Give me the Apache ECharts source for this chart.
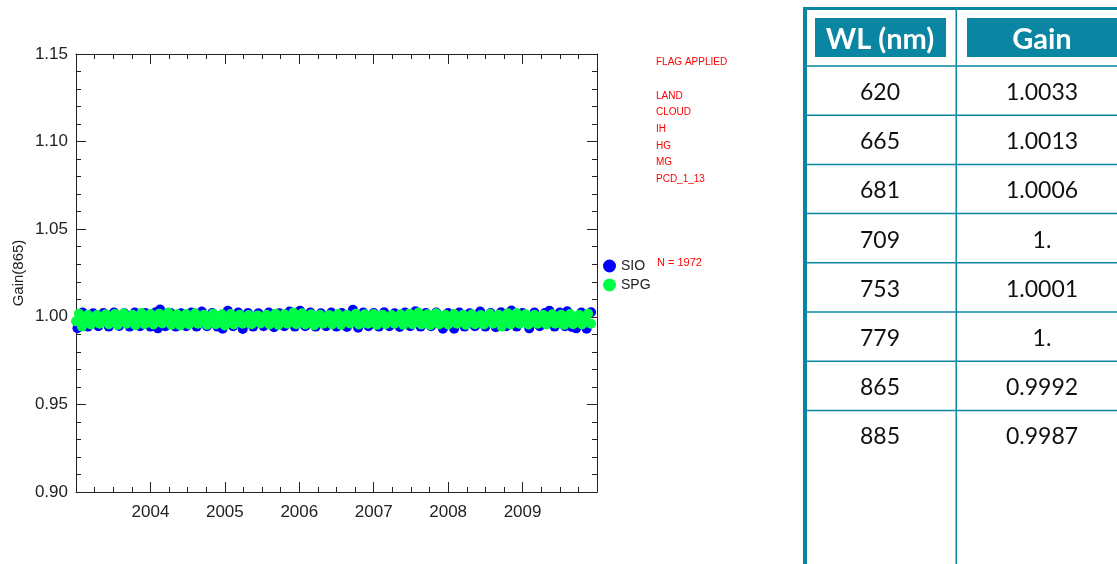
<!DOCTYPE html>
<html>
<head>
<meta charset="utf-8">
<title>Gain(865)</title>
<script src="https://cdn.jsdelivr.net/npm/echarts@6/dist/echarts.min.js"></script>
<style>
  html, body { margin: 0; padding: 0; background: #fff; }
  #chart { width: 1117px; height: 564px; }
</style>
</head>
<body>
<div id="chart"></div>
<script>
// SIO match-ups (decimal year, gain)
var sioPoints = [
  [2003.02,0.9935],[2003.09,1.0024],[2003.16,0.9944],[2003.23,1.0020],[2003.30,0.9946],[2003.37,1.0022],[2003.44,0.9944],[2003.51,1.0024],
  [2003.58,0.9948],[2003.65,1.0020],[2003.72,0.9944],[2003.79,1.0024],[2003.86,0.9946],[2003.93,1.0022],[2004.00,0.9944],[2004.07,1.0026],
  [2004.10,0.9934],[2004.13,1.0042],[2004.20,0.9946],[2004.27,1.0022],[2004.34,0.9944],[2004.41,1.0020],[2004.48,0.9946],[2004.55,1.0024],
  [2004.62,0.9944],[2004.69,1.0030],[2004.76,0.9946],[2004.83,1.0022],[2004.90,0.9944],[2004.97,0.9932],[2005.04,1.0034],[2005.11,0.9946],
  [2005.18,1.0024],[2005.24,0.9930],[2005.31,1.0022],[2005.38,0.9944],[2005.45,1.0020],[2005.52,0.9946],[2005.59,1.0024],[2005.66,0.9940],
  [2005.73,1.0020],[2005.80,0.9946],[2005.87,1.0030],[2005.94,0.9944],[2006.01,1.0034],[2006.08,0.9946],[2006.15,1.0024],[2006.22,0.9944],
  [2006.29,1.0020],[2006.36,0.9946],[2006.43,1.0024],[2006.50,0.9944],[2006.57,1.0022],[2006.64,0.9942],[2006.72,1.0040],[2006.79,0.9938],
  [2006.86,1.0024],[2006.93,0.9946],[2007.00,1.0022],[2007.07,0.9944],[2007.14,1.0026],[2007.21,0.9946],[2007.28,1.0020],[2007.35,0.9942],
  [2007.42,1.0024],[2007.49,0.9946],[2007.56,1.0032],[2007.63,0.9944],[2007.70,1.0022],[2007.77,0.9946],[2007.84,1.0024],[2007.93,0.9932],
  [2008.00,1.0022],[2008.08,0.9932],[2008.15,1.0024],[2008.22,0.9944],[2008.29,1.0020],[2008.36,0.9946],[2008.43,1.0030],[2008.50,0.9944],
  [2008.57,1.0022],[2008.64,0.9940],[2008.71,1.0026],[2008.78,0.9946],[2008.85,1.0036],[2008.92,0.9944],[2009.00,1.0022],[2009.09,0.9934],
  [2009.16,1.0024],[2009.23,0.9946],[2009.30,1.0022],[2009.36,1.0034],[2009.43,0.9944],[2009.50,1.0024],[2009.57,0.9946],[2009.60,1.0032],
  [2009.66,0.9942],[2009.72,0.9934],[2009.79,1.0024],[2009.86,0.9932],[2009.92,1.0026]
];

// SPG match-ups (decimal year, gain)
var spgPoints = [
  [2003.00,0.9975],[2003.04,1.0018],[2003.08,0.9944],[2003.12,0.9990],[2003.16,1.0012],[2003.20,0.9956],[2003.24,0.9984],[2003.28,1.0010],
  [2003.32,0.9960],[2003.36,0.9992],[2003.40,1.0014],[2003.44,0.9958],[2003.48,0.9988],[2003.52,1.0016],[2003.56,0.9954],[2003.60,0.9994],
  [2003.64,1.0020],[2003.68,0.9960],[2003.72,0.9986],[2003.76,1.0012],[2003.80,0.9952],[2003.84,0.9990],[2003.88,1.0022],[2003.92,0.9958],
  [2003.96,0.9984],
  [2004.00,1.0016],[2004.04,0.9956],[2004.08,0.9992],[2004.12,1.0018],[2004.16,0.9962],[2004.20,0.9986],[2004.24,1.0024],[2004.28,0.9954],
  [2004.32,0.9990],[2004.36,1.0014],[2004.40,0.9950],[2004.44,0.9982],[2004.48,1.0016],[2004.52,0.9956],[2004.56,0.9994],[2004.60,1.0020],
  [2004.64,0.9960],[2004.68,0.9988],[2004.72,1.0012],[2004.76,0.9954],[2004.80,0.9990],[2004.84,1.0018],[2004.88,0.9958],[2004.92,0.9986],
  [2004.96,1.0014],
  [2005.00,0.9950],[2005.04,0.9990],[2005.08,1.0016],[2005.12,0.9956],[2005.16,0.9986],[2005.20,1.0012],[2005.24,0.9960],[2005.28,0.9984],
  [2005.32,1.0010],[2005.36,0.9958],[2005.40,0.9982],[2005.44,1.0008],[2005.48,0.9962],[2005.52,0.9986],[2005.56,1.0012],[2005.60,0.9956],
  [2005.64,0.9990],[2005.68,1.0018],[2005.72,0.9954],[2005.76,0.9984],[2005.80,1.0014],[2005.84,0.9960],[2005.88,0.9992],[2005.92,1.0024],
  [2005.96,0.9958],
  [2006.00,0.9988],[2006.04,1.0020],[2006.08,0.9956],[2006.12,0.9990],[2006.16,1.0014],[2006.20,0.9952],[2006.24,0.9986],[2006.28,1.0012],
  [2006.32,0.9960],[2006.36,0.9984],[2006.40,1.0010],[2006.44,0.9956],[2006.48,0.9988],[2006.52,1.0016],[2006.56,0.9954],[2006.60,0.9992],
  [2006.64,1.0012],[2006.68,0.9962],[2006.72,0.9986],[2006.76,1.0018],[2006.80,0.9956],[2006.84,0.9990],[2006.88,1.0014],[2006.92,0.9960],
  [2006.96,0.9986],
  [2007.00,1.0016],[2007.04,0.9954],[2007.08,0.9990],[2007.12,1.0012],[2007.16,0.9958],[2007.20,0.9986],[2007.24,1.0010],[2007.28,0.9960],
  [2007.32,0.9988],[2007.36,1.0014],[2007.40,0.9954],[2007.44,0.9986],[2007.48,1.0018],[2007.52,0.9958],[2007.56,0.9992],[2007.60,1.0024],
  [2007.64,0.9956],[2007.68,0.9988],[2007.72,1.0014],[2007.76,0.9952],[2007.80,0.9990],[2007.84,1.0020],[2007.88,0.9958],[2007.92,0.9986],
  [2007.96,1.0012],
  [2008.00,0.9956],[2008.04,0.9990],[2008.08,1.0016],[2008.12,0.9960],[2008.16,0.9986],[2008.20,1.0012],[2008.24,0.9954],[2008.28,0.9988],
  [2008.32,1.0014],[2008.36,0.9958],[2008.40,0.9986],[2008.44,1.0010],[2008.48,0.9956],[2008.52,0.9990],[2008.56,1.0018],[2008.60,0.9960],
  [2008.64,0.9984],[2008.68,1.0012],[2008.72,0.9944],[2008.76,0.9988],[2008.80,1.0020],[2008.84,0.9956],[2008.88,0.9992],[2008.92,1.0022],
  [2008.96,0.9960],
  [2009.00,0.9988],[2009.04,1.0014],[2009.08,0.9956],[2009.12,0.9990],[2009.16,1.0012],[2009.20,0.9960],[2009.24,0.9986],[2009.28,1.0010],
  [2009.32,0.9956],[2009.36,0.9988],[2009.40,1.0014],[2009.44,0.9960],[2009.48,0.9984],[2009.52,1.0012],[2009.56,0.9954],[2009.60,0.9990],
  [2009.64,1.0016],[2009.68,0.9958],[2009.72,0.9986],[2009.76,1.0012],[2009.80,0.9956],[2009.84,0.9990],[2009.88,1.0018],[2009.92,0.9960]
];

var flagLines = ["LAND", "CLOUD", "IH", "HG", "MG", "PCD_1_13"];
var matchCount = "N = 1972";

// table on the right
var tableHeader = ["WL (nm)", "Gain"];
var wavelengths = ["620", "665", "681", "709", "753", "779", "865", "885"];
var gains = ["1.0033", "1.0013", "1.0006", "1.", "1.0001", "1.", "0.9992", "0.9987"];

var teal = "#0a86a2";
var axisColor = "#222";

function buildGraphic() {
  var g = [];
  // red annotations
  g.push({ type: "text", left: 656, top: 57, style: { text: "FLAG APPLIED", fill: "#ff0000", font: "10px 'Liberation Sans'" } });
  flagLines.forEach(function (t, i) {
    g.push({ type: "text", left: 656, top: 91 + i * 16.6, style: { text: t, fill: "#ff0000", font: "10px 'Liberation Sans'" } });
  });
  g.push({ type: "text", left: 657, top: 257, style: { text: matchCount, fill: "#ff0000", font: "11px 'Liberation Sans'" } });

  // table frame
  g.push({ type: "rect", shape: { x: 803, y: 7, width: 4, height: 557 }, style: { fill: teal } });
  g.push({ type: "rect", shape: { x: 803, y: 7, width: 314, height: 3 }, style: { fill: teal } });
  g.push({ type: "rect", shape: { x: 955.5, y: 9, width: 1.5, height: 555 }, style: { fill: teal } });
  g.push({ type: "rect", shape: { x: 815, y: 18, width: 131, height: 39 }, style: { fill: teal } });
  g.push({ type: "rect", shape: { x: 967, y: 18, width: 150, height: 39 }, style: { fill: teal } });
  g.push({ type: "text", x: 880, y: 40, style: { text: tableHeader[0], fill: "#fff", font: "bold 29px Lato", align: "center", verticalAlign: "middle" } });
  g.push({ type: "text", x: 1042, y: 40, style: { text: tableHeader[1], fill: "#fff", font: "bold 29px Lato", align: "center", verticalAlign: "middle" } });
  var rowH = 49.2;
  for (var i = 0; i < wavelengths.length; i++) {
    var top = 66 + i * rowH;
    g.push({ type: "rect", shape: { x: 807, y: top - 0.75, width: 310, height: 1.5 }, style: { fill: teal } });
    g.push({ type: "text", x: 880, y: top + rowH / 2 + 2, style: { text: wavelengths[i], fill: "#111", font: "23px Lato", align: "center", verticalAlign: "middle" } });
    g.push({ type: "text", x: 1042, y: top + rowH / 2 + 2, style: { text: gains[i], fill: "#111", font: "23px Lato", align: "center", verticalAlign: "middle" } });
  }
  return g;
}

var chart = echarts.init(document.getElementById("chart"), null, { renderer: "canvas" });

var xCommon = {
  type: "value",
  min: 2003,
  max: 2010,
  interval: 1,
  axisLine: { show: true, lineStyle: { color: axisColor, width: 1 } },
  axisTick: { show: true, inside: true, length: 10, lineStyle: { color: axisColor } },
  minorTick: { show: true, splitNumber: 4, length: 5, lineStyle: { color: axisColor } },
  splitLine: { show: false }
};
var yCommon = {
  type: "value",
  min: 0.9,
  max: 1.15,
  interval: 0.05,
  axisLine: { show: true, lineStyle: { color: axisColor, width: 1 } },
  axisTick: { show: true, inside: true, length: 10, lineStyle: { color: axisColor } },
  minorTick: { show: true, splitNumber: 5, length: 5, lineStyle: { color: axisColor } },
  splitLine: { show: false }
};

chart.setOption({
  animation: false,
  backgroundColor: "#fff",
  grid: { left: 76, right: 520, top: 54, bottom: 72, containLabel: false },
  legend: {
    orient: "vertical",
    left: 603,
    top: 259,
    padding: 0,
    itemWidth: 13,
    itemHeight: 13,
    itemGap: 5,
    icon: "circle",
    textStyle: { fontFamily: "Liberation Sans", fontSize: 14, color: "#222" },
    data: ["SIO", "SPG"]
  },
  xAxis: [
    Object.assign({}, xCommon, {
      position: "bottom",
      axisLabel: {
        margin: 12,
        fontFamily: "Liberation Sans",
        fontSize: 17,
        color: "#222",
        formatter: function (v) { return (v > 2003 && v < 2010) ? String(v) : ""; }
      }
    }),
    Object.assign({}, xCommon, { position: "top", axisLabel: { show: false } })
  ],
  yAxis: [
    Object.assign({}, yCommon, {
      position: "left",
      name: "Gain(865)",
      nameLocation: "middle",
      nameGap: 50,
      nameTextStyle: { fontFamily: "Liberation Sans", fontSize: 15, color: "#222" },
      axisLabel: {
        margin: 8,
        fontFamily: "Liberation Sans",
        fontSize: 17,
        color: "#222",
        formatter: function (v) { return v.toFixed(2); }
      }
    }),
    Object.assign({}, yCommon, { position: "right", axisLabel: { show: false } })
  ],
  series: [
    {
      name: "SIO",
      type: "scatter",
      symbol: "circle",
      symbolSize: 10,
      itemStyle: { color: "#0000ff", opacity: 1 },
      data: sioPoints
    },
    {
      name: "SPG",
      type: "scatter",
      symbol: "circle",
      symbolSize: 10,
      itemStyle: { color: "#00ff44", opacity: 1 },
      data: spgPoints
    }
  ],
  graphic: buildGraphic()
});
</script>
</body>
</html>
